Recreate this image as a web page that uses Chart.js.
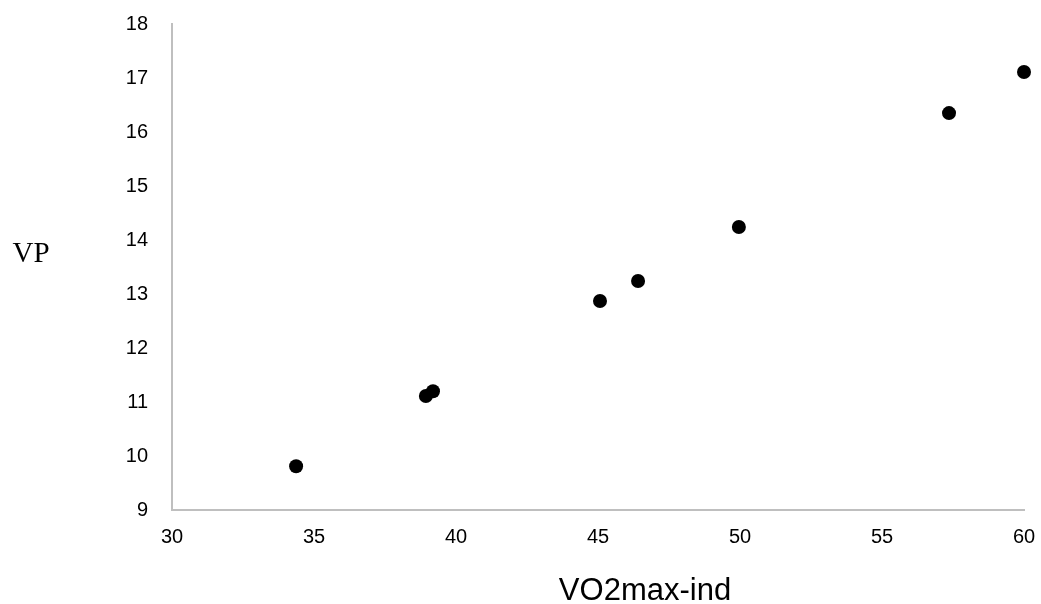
<!DOCTYPE html>
<html lang="en">
<head>
    <meta charset="UTF-8">
    <title>VP vs VO2max-ind</title>
    <script src="https://cdn.jsdelivr.net/npm/chart.js"></script>
    <style>
        html, body { margin: 0; padding: 0; background: #fff; }
        #wrap { width: 1041px; height: 604px; }
    </style>
</head>
<body>
    <div id="wrap"><canvas id="myChart" width="1041" height="604"></canvas></div>
    <script>
        // values
        const vo2max = [34.37, 38.94, 39.19, 45.07, 46.41, 49.96, 57.36, 60.0];
        const vp = [9.81, 11.11, 11.2, 12.87, 13.24, 14.24, 16.35, 17.11];
        const xTitle = 'VO2max-ind';
        const yTitle = 'VP';

        const points = vo2max.map((x, i) => ({ x: x, y: vp[i] }));

        // axis titles drawn by hand (y title is horizontal, not rotated)
        const titlePlugin = {
            id: 'titles',
            afterDraw(chart) {
                const ctx = chart.ctx;
                ctx.save();
                ctx.fillStyle = '#000';
                ctx.textAlign = 'center';
                ctx.textBaseline = 'alphabetic';
                ctx.font = '31px "Liberation Sans", Arial, sans-serif';
                ctx.fillText(xTitle, 645, 600);
                ctx.font = '29px "Liberation Serif", "Times New Roman", serif';
                ctx.fillText(yTitle, 31, 262);
                ctx.restore();
            }
        };

        const ctx = document.getElementById('myChart').getContext('2d');
        new Chart(ctx, {
            type: 'scatter',
            data: {
                datasets: [{
                    data: points,
                    backgroundColor: '#000',
                    borderWidth: 0,
                    pointRadius: 7,
                    pointHoverRadius: 7,
                    clip: false
                }]
            },
            options: {
                responsive: false,
                animation: false,
                layout: { padding: { left: 0, top: 24, right: 17, bottom: 0 } },
                plugins: {
                    legend: { display: false },
                    tooltip: { enabled: false }
                },
                scales: {
                    x: {
                        type: 'linear',
                        min: 30,
                        max: 60,
                        grid: { display: false, drawTicks: false },
                        border: { display: true, color: '#bfbfbf', width: 2 },
                        ticks: {
                            stepSize: 5,
                            padding: 15,
                            color: '#000',
                            font: { family: '"Liberation Sans", Arial, sans-serif', size: 20 }
                        },
                        afterFit: scale => {
                            scale.height = 94;
                            scale.paddingLeft = 0;
                            scale.paddingRight = 0;
                        }
                    },
                    y: {
                        min: 9,
                        max: 18,
                        grid: { display: false, drawTicks: false },
                        border: { display: true, color: '#bfbfbf', width: 2 },
                        ticks: {
                            stepSize: 1,
                            padding: 24,
                            color: '#000',
                            font: { family: '"Liberation Sans", Arial, sans-serif', size: 20 }
                        },
                        afterFit: scale => {
                            scale.width = 172;
                            scale.paddingTop = 0;
                            scale.paddingBottom = 0;
                        }
                    }
                }
            },
            plugins: [titlePlugin]
        });
    </script>
</body>
</html>
